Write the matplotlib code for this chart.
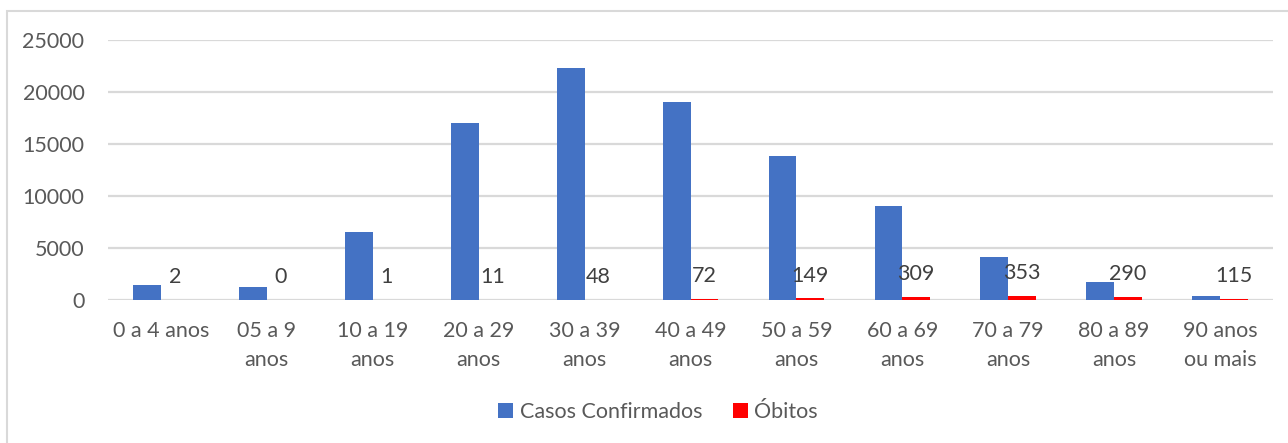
import matplotlib
matplotlib.use("Agg")
import matplotlib.pyplot as plt
import matplotlib.patches as mpatches
import numpy as np

plt.rcParams['font.family'] = ['Lato', 'DejaVu Sans']

categories = ["0 a 4 anos", "05 a 9\nanos", "10 a 19\nanos", "20 a 29\nanos", "30 a 39\nanos",
              "40 a 49\nanos", "50 a 59\nanos", "60 a 69\nanos", "70 a 79\nanos", "80 a 89\nanos",
              "90 anos\nou mais"]
casos = [1410, 1250, 6550, 17000, 22300, 19000, 13800, 9050, 4180, 1700, 390]
obitos = [2, 0, 1, 11, 48, 72, 149, 309, 353, 290, 115]
yticks = [0, 5000, 10000, 15000, 20000, 25000]

W, H = 1288, 443
fig = plt.figure(figsize=(W / 100, H / 100), dpi=100)
ax = fig.add_axes([108 / W, 1 - 300 / H, (1273 - 108) / W, (300 - 40) / H])

x = np.arange(len(categories))
bw = 0.262
ax.bar(x - bw / 2, casos, bw, color='#4472C4', label='Casos Confirmados', zorder=3)
ax.bar(x + bw / 2, obitos, bw, color='#FF0000', label='Óbitos', zorder=3)

for xi, v in zip(x, obitos):
    ax.annotate(str(v), (xi + bw / 2, v), xytext=(0, 12.2), textcoords='offset points',
                ha='center', va='baseline', fontsize=15.5, color='#404040', zorder=4)

ax.set_xlim(-0.5, len(categories) - 0.5)
ax.set_ylim(0, 25000)
ax.set_yticks(yticks)
ax.set_yticklabels([str(t) for t in yticks])
ax.set_xticks(x)
ax.set_xticklabels(categories, linespacing=1.6)
ax.tick_params(axis='y', length=0, pad=17, labelsize=15.5, labelcolor='#595959')
ax.tick_params(axis='x', length=0, pad=15, labelsize=15.5, labelcolor='#595959')
ax.yaxis.grid(True, color='#d9d9d9', linewidth=1.6, zorder=0)
ax.set_axisbelow(True)
for s in ax.spines.values():
    s.set_visible(False)

leg = fig.legend(loc='center', bbox_to_anchor=(658 / W, 1 - 412 / H), ncol=2, frameon=False,
                 fontsize=15.5, handlelength=0.7, handleheight=0.7, handletextpad=0.3,
                 columnspacing=1.4)
for t in leg.get_texts():
    t.set_color('#595959')

border = mpatches.Rectangle((7 / W, -0.1), 1.2, 1 - 11 / H + 0.1, transform=fig.transFigure,
                            fill=False, edgecolor='#d9d9d9', linewidth=1.5)
fig.patches.append(border)

fig.savefig('out.png', dpi=100)
